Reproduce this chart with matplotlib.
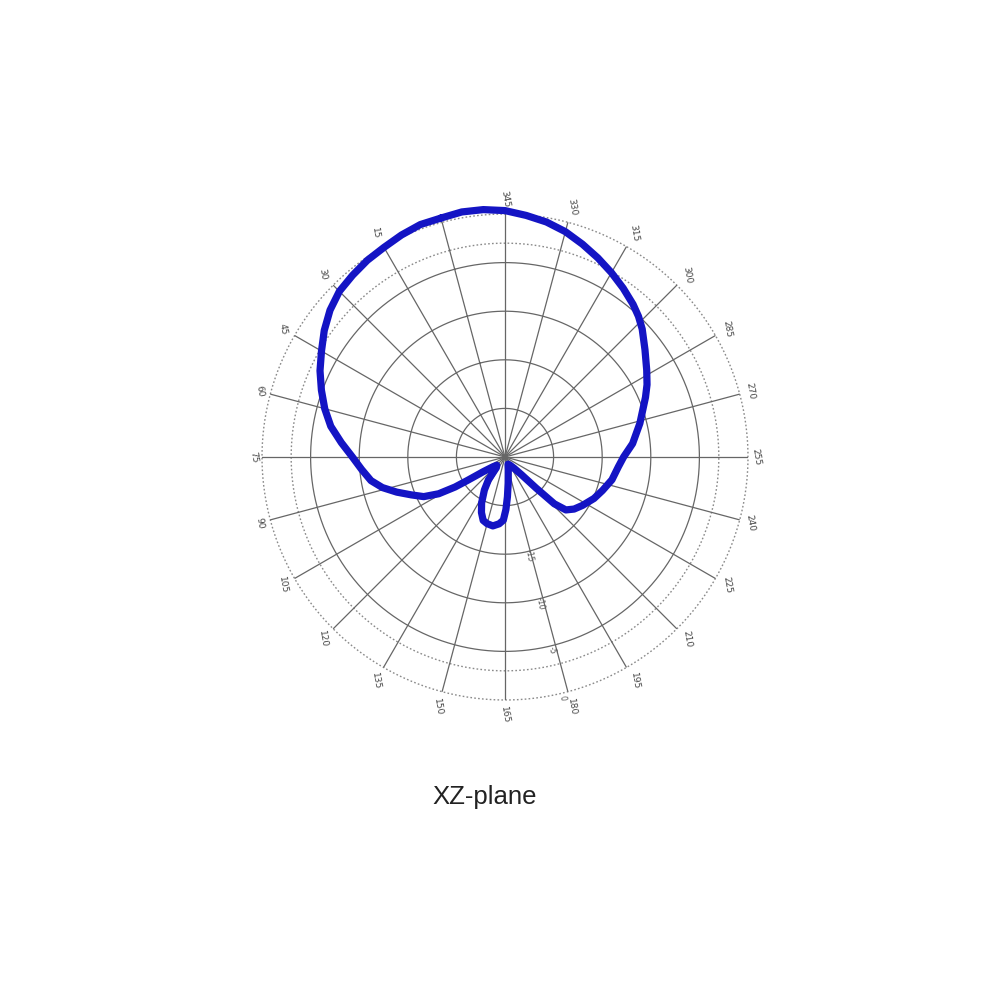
import numpy as np
import matplotlib
matplotlib.use("Agg")
import matplotlib.pyplot as plt

theta_deg = [0, 5, 10, 15, 20, 25, 30, 35, 40, 45, 50, 55, 60, 65, 70, 75, 80,
             85, 89, 93, 97, 101, 104, 106, 107, 109, 114, 120, 126, 129, 133,
             138, 142, 146, 150, 155, 160, 163.5, 166, 168.5, 172, 179, 188,
             197, 204, 208, 210, 211.5, 214, 218, 223, 230, 236, 243, 250, 255,
             261, 269, 274, 278, 282, 286.5, 292.5, 298, 301.5, 305, 310, 315,
             320, 325, 330, 335, 340, 345, 350, 355, 360]
gain_db = [0.45, 0.45, 0.2, -0.1, -0.3, -0.6, -0.9, -1.5, -2.3, -3.2, -4.0,
           -4.9, -5.8, -6.8, -8.1, -9.3, -10.2, -11.0, -12.0, -13.3, -14.6,
           -15.7, -17.2, -19.0, -20.5, -22.3, -23.4, -23.8, -23.6, -22.1, -21.0,
           -19.7, -18.8, -18.1, -17.9, -17.8, -18.1, -18.5, -19.6, -20.9, -22.3,
           -23.6, -24.2, -24.0, -23.5, -22.5, -20.5, -18.0, -16.7, -16.1, -15.6,
           -14.9, -14.4, -13.75, -13.3, -12.8, -11.8, -10.7, -10.0, -9.3, -8.6,
           -7.9, -6.85, -5.7, -5.05, -4.5, -3.8, -3.1, -2.4, -1.7, -1.0, -0.45,
           -0.05, 0.35, 0.55, 0.6, 0.45]

spoke_angles = list(range(0, 360, 15))
solid_rings = [-20, -15, -10, -5]
dotted_rings = [-3, 0]
ring_labels = [-15, -10, -5, 0]
r_min, r_max = -25, 0
title = "XZ-plane"

fig = plt.figure(figsize=(10, 10), dpi=100)
ax = fig.add_axes([0.262, 0.300, 0.486, 0.486], projection="polar")
ax.set_theta_offset(np.deg2rad(105))
ax.set_theta_direction(1)
ax.set_ylim(r_min, r_max)
ax.set_xticks([])
ax.set_yticks([])
ax.grid(False)
ax.spines["polar"].set_visible(False)
ax.patch.set_alpha(0)

full = np.linspace(0, 2 * np.pi, 361)
for r in solid_rings:
    ax.plot(full, np.full_like(full, r), color="#666666", lw=0.9, zorder=1)
for r in dotted_rings:
    ax.plot(full, np.full_like(full, r), color="#8a8a8a", lw=1.0,
            ls=(0, (1.2, 1.6)), zorder=1, clip_on=False)

for a in spoke_angles:
    t = np.deg2rad(a)
    ax.plot([t, t], [r_min, r_max], color="#666666", lw=0.9, zorder=1)

# angle labels just outside the outer ring
for a in spoke_angles:
    if a == 0:
        continue
    phi = np.deg2rad(105 + a)
    ext = 3 * abs(np.cos(phi)) + 8 * abs(np.sin(phi)) + 3
    ax.annotate(str(a), xy=(np.deg2rad(a), r_max),
                xytext=(ext * np.cos(phi), ext * np.sin(phi)),
                textcoords="offset points", ha="center", va="center",
                rotation=-80, fontsize=6.5, color="#444444", annotation_clip=False)

# radial labels along the 178 degree direction
for r in ring_labels:
    ax.annotate(str(r), xy=(np.deg2rad(178), r), xytext=(2, -3),
                textcoords="offset points", ha="center", va="center",
                rotation=-80, fontsize=5.5, color="#555555", annotation_clip=False)

ax.plot(np.deg2rad(theta_deg), gain_db, color="#1414c4", lw=5.2,
        solid_joinstyle="round", solid_capstyle="round", zorder=3, clip_on=False)

fig.text(0.485, 0.203, title, ha="center", va="center", fontsize=18.5,
         family=["Liberation Sans", "DejaVu Sans"], color="#222222")

fig.savefig("out.png", dpi=100, facecolor="white")
